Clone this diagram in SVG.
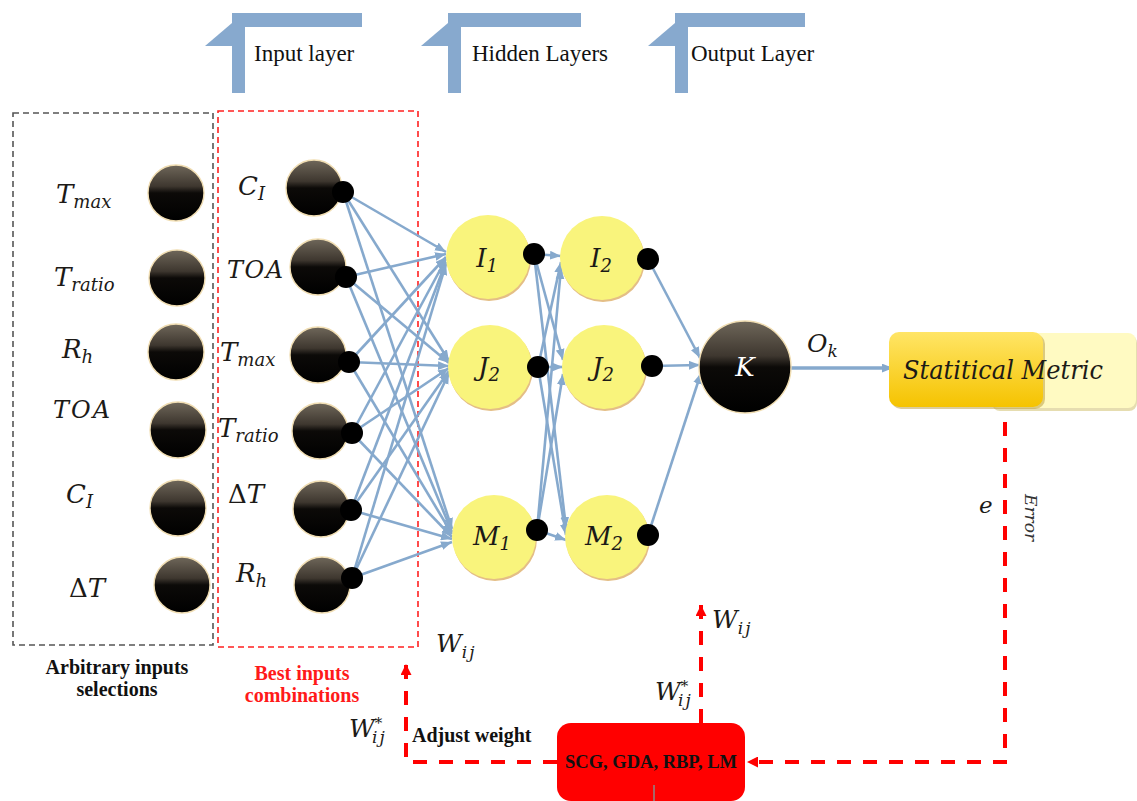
<svg xmlns="http://www.w3.org/2000/svg" width="1137" height="801" viewBox="0 0 1137 801">
<style>
.math{font-family:"DejaVu Serif",serif;font-style:italic;fill:#1c1a17}
.ban{font-family:"Liberation Serif",serif;font-size:23px;fill:#111}
.bold{font-family:"Liberation Serif",serif;font-weight:bold;font-size:20px}
.bl{stroke:#86A9CD;stroke-width:2.6;fill:none;marker-end:url(#ab)}
.rd{stroke:#FF0000;stroke-width:4;stroke-dasharray:14 12;fill:none;marker-end:url(#ar)}
.ball{fill:url(#gBall);stroke:#f0ddb2;stroke-width:1.4}
.dot{fill:#000}
.yel{fill:#F9F47C}
.ysh{fill:#E4BE86}
.banner{fill:#87A9CE}
.up{font-style:normal}
</style>
<defs>
<linearGradient id="gBall" x1="0" y1="0" x2="0" y2="1">
<stop offset="0" stop-color="#6f675a"/>
<stop offset="0.38" stop-color="#3e372f"/>
<stop offset="0.5" stop-color="#0c0a08"/>
<stop offset="1" stop-color="#000"/>
</linearGradient>
<linearGradient id="gGold" x1="0" y1="0" x2="0" y2="1">
<stop offset="0" stop-color="#FFE566"/>
<stop offset="1" stop-color="#F5C300"/>
</linearGradient>
<marker id="ab" viewBox="0 0 10 8" refX="10" refY="4" markerWidth="11" markerHeight="9" markerUnits="userSpaceOnUse" orient="auto">
<path d="M0,0 L10,4 L0,8 z" fill="#86A9CD"/>
</marker>
<marker id="ar" viewBox="0 0 10 10" refX="10" refY="5" markerWidth="11" markerHeight="11" markerUnits="userSpaceOnUse" orient="auto">
<path d="M0,0 L10,5 L0,10 z" fill="#FF0000"/>
</marker>
</defs>
<rect width="1137" height="801" fill="#fff"/>

<g id="banners">
<path class="banner" d="M232,13 H362 V27 H245 V93 H232 Z"/>
<path class="banner" d="M205,46 L232,23 V46 Z"/>
<text class="ban" x="254" y="61">Input layer</text>
<path class="banner" d="M448,13 H581 V27 H461 V93 H448 Z"/>
<path class="banner" d="M421,46 L448,23 V46 Z"/>
<text class="ban" x="472" y="61">Hidden Layers</text>
<path class="banner" d="M675,13 H805 V27 H688 V93 H675 Z"/>
<path class="banner" d="M648,46 L675,23 V46 Z"/>
<text class="ban" x="691" y="61">Output Layer</text>
</g>

<g id="arbitrary-box">
<rect x="13" y="113" width="200" height="532" fill="none" stroke="#555" stroke-width="1.6" stroke-dasharray="6 4"/>
<text class="bold" x="117" y="674" text-anchor="middle" fill="#111">Arbitrary inputs</text>
<text class="bold" x="117" y="696" text-anchor="middle" fill="#111">selections</text>
</g>
<g id="best-box">
<rect x="218" y="111" width="200" height="536" fill="none" stroke="#FF2020" stroke-width="1.6" stroke-dasharray="6 4"/>
<text class="bold" x="302" y="680" text-anchor="middle" fill="#FF1A1A">Best inputs</text>
<text class="bold" x="302" y="702" text-anchor="middle" fill="#FF1A1A">combinations</text>
</g>

<g id="connectors">
<line class="bl" x1="343" y1="192" x2="446" y2="252"/>
<line class="bl" x1="343" y1="192" x2="449" y2="361"/>
<line class="bl" x1="343" y1="192" x2="452" y2="529"/>
<line class="bl" x1="346" y1="277" x2="446" y2="254"/>
<line class="bl" x1="346" y1="277" x2="449" y2="363"/>
<line class="bl" x1="346" y1="277" x2="452" y2="532"/>
<line class="bl" x1="349" y1="362" x2="446" y2="257"/>
<line class="bl" x1="349" y1="362" x2="449" y2="366"/>
<line class="bl" x1="349" y1="362" x2="452" y2="534"/>
<line class="bl" x1="352" y1="433" x2="446" y2="259"/>
<line class="bl" x1="352" y1="433" x2="449" y2="368"/>
<line class="bl" x1="352" y1="433" x2="452" y2="537"/>
<line class="bl" x1="351" y1="510" x2="446" y2="262"/>
<line class="bl" x1="351" y1="510" x2="449" y2="371"/>
<line class="bl" x1="351" y1="510" x2="452" y2="539"/>
<line class="bl" x1="352" y1="578" x2="446" y2="264"/>
<line class="bl" x1="352" y1="578" x2="449" y2="373"/>
<line class="bl" x1="352" y1="578" x2="452" y2="542"/>

<line class="bl" x1="534" y1="254" x2="561" y2="256"/>
<line class="bl" x1="534" y1="254" x2="563" y2="360"/>
<line class="bl" x1="534" y1="254" x2="566" y2="528"/>
<line class="bl" x1="538" y1="367" x2="561" y2="262"/>
<line class="bl" x1="538" y1="367" x2="563" y2="367"/>
<line class="bl" x1="538" y1="367" x2="566" y2="535"/>
<line class="bl" x1="537" y1="530" x2="561" y2="268"/>
<line class="bl" x1="537" y1="530" x2="563" y2="374"/>
<line class="bl" x1="537" y1="530" x2="566" y2="540"/>

<line class="bl" x1="648" y1="259" x2="700" y2="358"/>
<line class="bl" x1="652" y1="366" x2="700" y2="365"/>
<line class="bl" x1="648" y1="535" x2="701" y2="373"/>

<line x1="791" y1="368" x2="893" y2="368" stroke="#86A9CD" stroke-width="3.4" marker-end="url(#ab)"/>

<path class="rd" d="M1005,422 V762 H747"/>
<path class="rd" d="M701,723 V605"/>
<path class="rd" d="M557,762 H406 V664"/>
</g>

<g id="left-inputs">
<g id="l-tmax"><circle class="ball" cx="176" cy="193" r="28"/><text class="math" x="56" y="203" font-size="26">T<tspan dy="5" font-size="18">max</tspan></text></g>
<g id="l-tratio"><circle class="ball" cx="177" cy="278" r="28"/><text class="math" x="54" y="286" font-size="26">T<tspan dy="5" font-size="18">ratio</tspan></text></g>
<g id="l-rh"><circle class="ball" cx="176" cy="352" r="28"/><text class="math" x="62" y="358" font-size="26">R<tspan dy="5" font-size="18">h</tspan></text></g>
<g id="l-toa"><circle class="ball" cx="178" cy="430" r="28"/><text class="math" x="53" y="418" font-size="24" letter-spacing="2">TOA</text></g>
<g id="l-ci"><circle class="ball" cx="178" cy="508" r="28"/><text class="math" x="66" y="503" font-size="26">C<tspan dy="5" font-size="18">I</tspan></text></g>
<g id="l-dt"><circle class="ball" cx="182" cy="585" r="28"/><text class="math" x="69" y="597" font-size="26"><tspan class="up">Δ</tspan>T</text></g>
</g>

<g id="best-inputs">
<g id="b-ci"><circle class="ball" cx="314" cy="188" r="28"/><circle class="dot" cx="343" cy="192" r="11"/><text class="math" x="238" y="195" font-size="26">C<tspan dy="5" font-size="18">I</tspan></text></g>
<g id="b-toa"><circle class="ball" cx="318" cy="267" r="28"/><circle class="dot" cx="346" cy="277" r="11"/><text class="math" x="227" y="278" font-size="24" letter-spacing="1.5">TOA</text></g>
<g id="b-tmax"><circle class="ball" cx="318" cy="355" r="28"/><circle class="dot" cx="349" cy="362" r="11"/><text class="math" x="220" y="361" font-size="26">T<tspan dy="5" font-size="18">max</tspan></text></g>
<g id="b-tratio"><circle class="ball" cx="320" cy="431" r="28"/><circle class="dot" cx="352" cy="433" r="11"/><text class="math" x="218" y="437" font-size="26">T<tspan dy="5" font-size="18">ratio</tspan></text></g>
<g id="b-dt"><circle class="ball" cx="321" cy="509" r="28"/><circle class="dot" cx="351" cy="510" r="11"/><text class="math" x="228" y="503" font-size="26"><tspan class="up">Δ</tspan>T</text></g>
<g id="b-rh"><circle class="ball" cx="322" cy="585" r="28"/><circle class="dot" cx="352" cy="578" r="11"/><text class="math" x="236" y="582" font-size="26">R<tspan dy="5" font-size="18">h</tspan></text></g>
</g>

<g id="hidden1">
<g id="h-i1"><circle class="ysh" cx="489" cy="259" r="42"/><circle class="yel" cx="488" cy="257" r="42"/><circle class="dot" cx="534" cy="254" r="11"/><text class="math" x="487" y="267" font-size="26" text-anchor="middle">I<tspan dy="5" font-size="18">1</tspan></text></g>
<g id="h-j1"><circle class="ysh" cx="491" cy="369" r="42"/><circle class="yel" cx="490" cy="367" r="42"/><circle class="dot" cx="538" cy="367" r="11"/><text class="math" x="489" y="376" font-size="26" text-anchor="middle">J<tspan dy="5" font-size="18">2</tspan></text></g>
<g id="h-m1"><circle class="ysh" cx="495" cy="539" r="42"/><circle class="yel" cx="494" cy="537" r="42"/><circle class="dot" cx="537" cy="530" r="11"/><text class="math" x="492" y="545" font-size="26" text-anchor="middle">M<tspan dy="5" font-size="18">1</tspan></text></g>
</g>

<g id="hidden2">
<g id="h-i2"><circle class="ysh" cx="603" cy="260" r="42"/><circle class="yel" cx="602" cy="258" r="42"/><circle class="dot" cx="648" cy="259" r="11"/><text class="math" x="601" y="267" font-size="26" text-anchor="middle">I<tspan dy="5" font-size="18">2</tspan></text></g>
<g id="h-j2"><circle class="ysh" cx="605" cy="369" r="42"/><circle class="yel" cx="604" cy="367" r="42"/><circle class="dot" cx="652" cy="366" r="11"/><text class="math" x="603" y="376" font-size="26" text-anchor="middle">J<tspan dy="5" font-size="18">2</tspan></text></g>
<g id="h-m2"><circle class="ysh" cx="608" cy="539" r="42"/><circle class="yel" cx="607" cy="537" r="42"/><circle class="dot" cx="648" cy="535" r="11"/><text class="math" x="604" y="545" font-size="26" text-anchor="middle">M<tspan dy="5" font-size="18">2</tspan></text></g>
</g>

<g id="output-k">
<circle class="ball" cx="745" cy="367" r="46"/>
<text class="math" x="745" y="376" font-size="26" text-anchor="middle" style="fill:#fff">K</text>
<text class="math" x="807" y="352" font-size="25">O<tspan dy="5" font-size="17">k</tspan></text>
</g>

<g id="statistical-metric">
<rect x="992" y="335" width="145" height="76" rx="8" fill="#E6DDB0"/>
<rect x="990" y="333" width="146" height="75" rx="8" fill="#FFFAC2"/>
<rect x="891" y="334" width="154" height="75" rx="10" fill="#B89A3A" opacity="0.5"/>
<rect x="889" y="332" width="154" height="75" rx="10" fill="url(#gGold)"/>
<text class="math" x="903" y="379" font-size="26" textLength="200" lengthAdjust="spacingAndGlyphs">Statitical Metric</text>
<text class="math" x="979" y="513" font-size="23">e</text>
<text class="math" x="1025" y="494" font-size="17" transform="rotate(90 1025 494)" style="fill:#333">Error</text>
</g>

<g id="training">
<rect x="557" y="723" width="188" height="78" rx="14" fill="#FF0000"/>
<line x1="654" y1="785" x2="654" y2="801" stroke="#8a8a8a" stroke-width="1.5"/>
<text class="bold" x="651" y="768" text-anchor="middle" style="font-size:18.5px" fill="#111">SCG, GDA, RBP, LM</text>
<text class="math" x="712" y="628" font-size="25">W<tspan dy="6" font-size="17" letter-spacing="2">ij</tspan></text>
<text class="math" x="655" y="700" font-size="25">W<tspan dy="-9" font-size="15">*</tspan><tspan x="678" dy="15" font-size="17" letter-spacing="2">ij</tspan></text>
<text class="math" x="436" y="652" font-size="25">W<tspan dy="6" font-size="17" letter-spacing="2">ij</tspan></text>
<text class="math" x="349" y="737" font-size="25">W<tspan dy="-9" font-size="15">*</tspan><tspan x="372" dy="15" font-size="17" letter-spacing="2">ij</tspan></text>
<text class="bold" x="412" y="742" fill="#111">Adjust weight</text>
</g>
</svg>
